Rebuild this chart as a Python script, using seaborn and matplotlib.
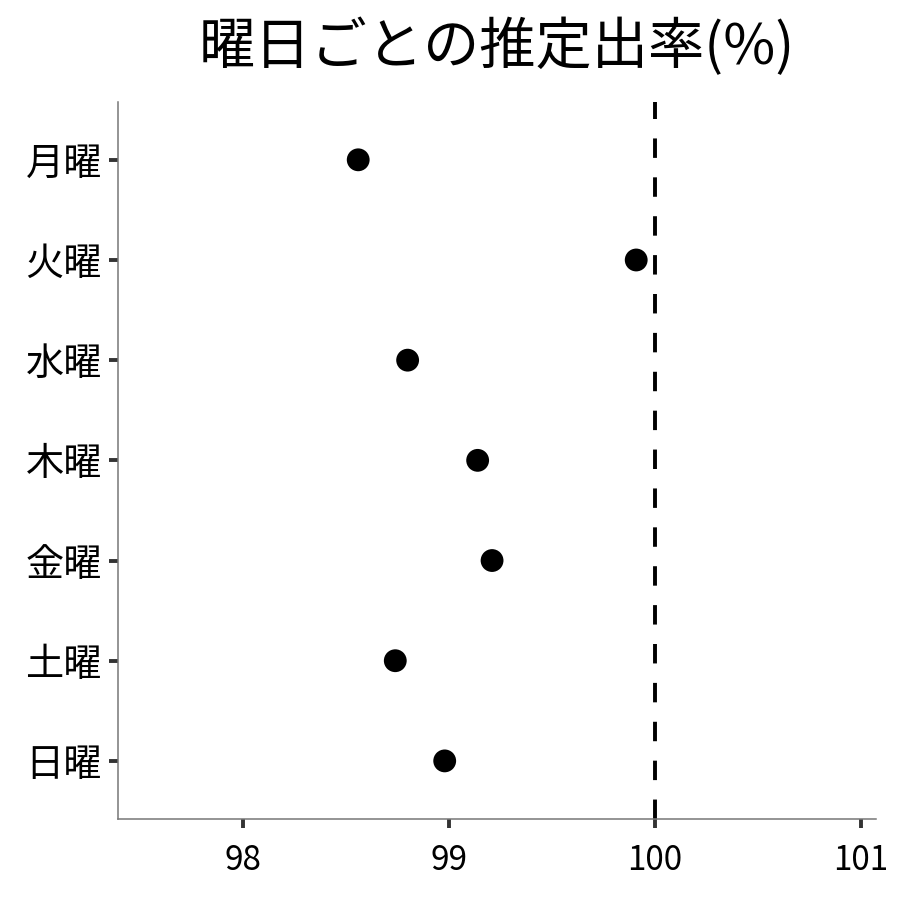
import seaborn as sns
import pandas as pd
import matplotlib.pyplot as plt

# 데이터
days = ['月曜', '火曜', '水曜', '木曜', '金曜', '土曜', '日曜']
rates = [98.56, 99.91, 98.80, 99.14, 99.21, 98.74, 98.98]
ref_value = 100
x_ticks = [98, 99, 100, 101]

df = pd.DataFrame({'day': days, 'rate': rates})

sns.set_style('ticks')
plt.rcParams['font.family'] = ['Noto Sans CJK JP', 'DejaVu Sans']

fig = plt.figure(figsize=(9, 9), dpi=100)
ax = fig.add_axes([0.131, 0.09, 0.842, 0.797])

sns.scatterplot(data=df, x='rate', y='day', color='black', s=270,
                edgecolor='none', ax=ax, zorder=3)
ax.axvline(ref_value, color='black', lw=2.8, dashes=(5, 5), zorder=2)

ax.set_xlim(97.393, 101.073)
ax.set_ylim(6.58, -0.58)
ax.set_xticks(x_ticks)
ax.set_xticklabels([str(t) for t in x_ticks])
ax.set_xlabel('')
ax.set_ylabel('')

for side in ['top', 'right']:
    ax.spines[side].set_visible(False)
for side in ['left', 'bottom']:
    ax.spines[side].set_color('#777777')
    ax.spines[side].set_linewidth(1.1)
ax.tick_params(axis='both', colors='#333333', width=2.8, length=6.5,
               labelcolor='black')
ax.tick_params(axis='y', labelsize=27.5, pad=5)
ax.tick_params(axis='x', labelsize=24, pad=11)

ax.set_title('曜日ごとの推定出率(%)', fontsize=40.5, pad=27, color='black')

plt.savefig('out.png', dpi=100)
plt.close()
